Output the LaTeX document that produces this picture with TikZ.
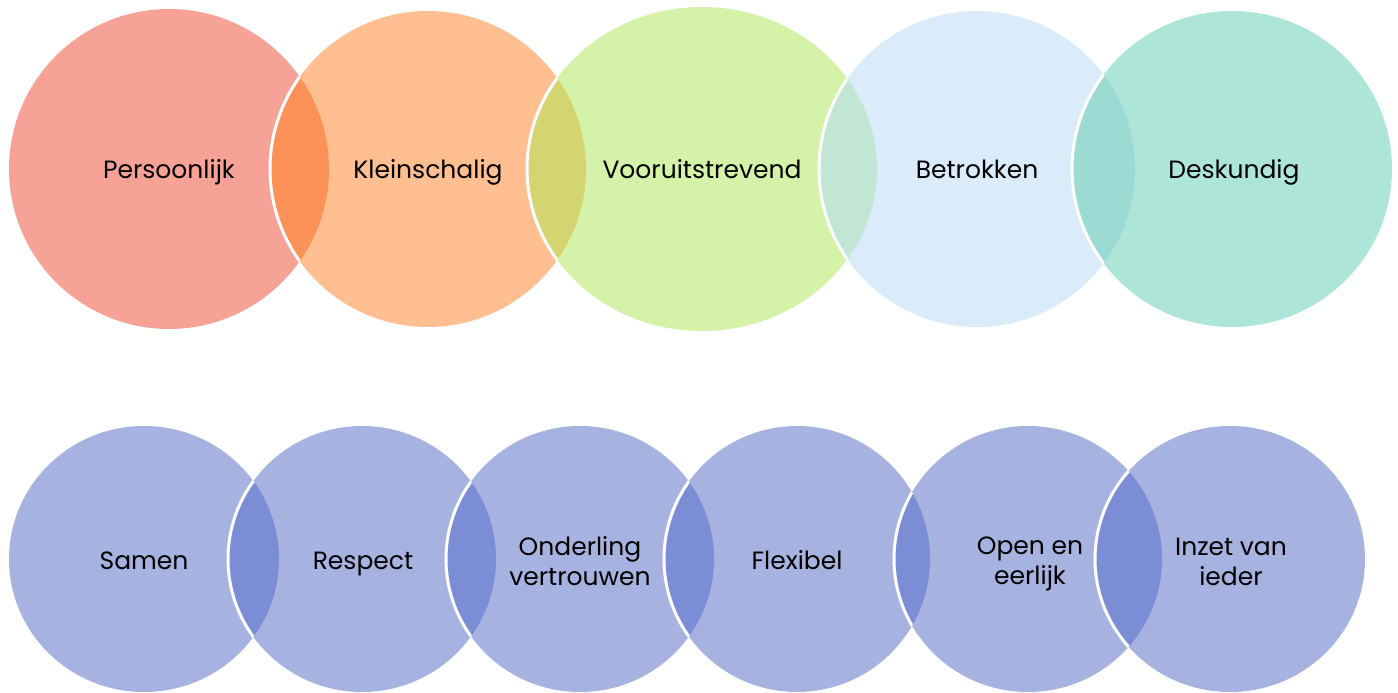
\documentclass[tikz,border=0pt]{standalone}
\usepackage{fontspec}
\setmainfont{Poppins}
\definecolor{cA}{HTML}{F7A296}
\definecolor{cB}{HTML}{FFBF91}
\definecolor{cC}{HTML}{D4F2A8}
\definecolor{cD}{HTML}{DAEBFA}
\definecolor{cE}{HTML}{ADE6D8}
\definecolor{lAB}{HTML}{FC9258}
\definecolor{lBC}{HTML}{D4D470}
\definecolor{lCD}{HTML}{C1E7D4}
\definecolor{lDE}{HTML}{9CDBD3}
\definecolor{cP}{HTML}{A6B3E1}
\definecolor{lP}{HTML}{7B8DD4}
\tikzset{
  lbl/.style={font=\fontsize{25}{30}\selectfont, text=black, align=center, inner sep=0pt},
  lbl1/.style={lbl, anchor=base},
  rim/.style={draw=white, line width=3pt},
}
\begin{document}
\begin{tikzpicture}[x=1pt,y=-1pt]
\useasboundingbox (0,0) rectangle (1398,693);
% top row shapes
\def\tA{(169,169) ellipse [x radius=160,y radius=160]}
\def\tB{(428,169) ellipse [x radius=158,y radius=158]}
\def\tC{(702,169) ellipse [x radius=175,y radius=162]}
\def\tD{(977,169) ellipse [x radius=158,y radius=158]}
\def\tE{(1232,169) ellipse [x radius=160,y radius=158]}
\fill[cA] \tA; \fill[cB] \tB; \fill[cC] \tC; \fill[cD] \tD; \fill[cE] \tE;
\begin{scope}\clip \tA; \fill[lAB] \tB; \draw[rim] \tB; \end{scope}
\begin{scope}\clip \tB; \fill[lBC] \tC; \draw[rim] \tC; \end{scope}
\begin{scope}\clip \tC; \fill[lCD] \tD; \draw[rim] \tD; \end{scope}
\begin{scope}\clip \tD; \fill[lDE] \tE; \draw[rim] \tE; \end{scope}
\node[lbl1] (t1) at (169,178) {Persoonlijk};
\node[lbl1] (t2) at (428,178) {Kleinschalig};
\node[lbl1] (t3) at (702,178) {Vooruitstrevend};
\node[lbl1] (t4) at (977,178) {Betrokken};
\node[lbl1] (t5) at (1234,178) {Deskundig};
% bottom row
\def\bA{(144,559) ellipse [x radius=135,y radius=133]}
\def\bB{(362,559) ellipse [x radius=134,y radius=133]}
\def\bC{(580,559) ellipse [x radius=134,y radius=133]}
\def\bD{(797,559) ellipse [x radius=133,y radius=133]}
\def\bE{(1028,559) ellipse [x radius=134,y radius=133]}
\def\bF{(1230,559) ellipse [x radius=135,y radius=133]}
\fill[cP] \bA; \fill[cP] \bB; \fill[cP] \bC; \fill[cP] \bD; \fill[cP] \bE; \fill[cP] \bF;
\begin{scope}\clip \bA; \fill[lP] \bB; \draw[rim] \bB; \end{scope}
\begin{scope}\clip \bB; \fill[lP] \bC; \draw[rim] \bC; \end{scope}
\begin{scope}\clip \bC; \fill[lP] \bD; \draw[rim] \bD; \end{scope}
\begin{scope}\clip \bD; \fill[lP] \bE; \draw[rim] \bE; \end{scope}
\begin{scope}\clip \bE; \fill[lP] \bF; \draw[rim] \bF; \end{scope}
\node[lbl1] (b1) at (144,569) {Samen};
\node[lbl1] (b2) at (363,569) {Respect};
\node[lbl] (b3) at (580,561) {Onderling\\vertrouwen};
\node[lbl1] (b4) at (797,569) {Flexibel};
\node[lbl] (b5) at (1030,564) {Open en\\eerlijk};
\node[lbl] (b6) at (1231,562) {Inzet van\\ieder};
\end{tikzpicture}
\end{document}
